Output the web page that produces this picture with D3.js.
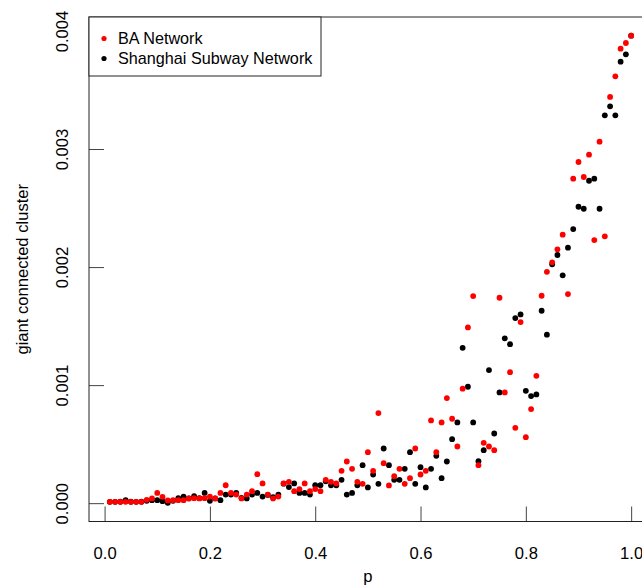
<!DOCTYPE html>
<html>
<head>
<meta charset="utf-8">
<script src="https://cdn.jsdelivr.net/npm/d3@7"></script>
<style>
  body { margin: 0; background: #fff; }
  svg { display: block; font-family: "Liberation Sans", Arial, sans-serif; }
</style>
</head>
<body>
<svg id="chart" width="642" height="588"></svg>
<script>
// p values 0.01 .. 1.00
var pValues = [
 0.01,0.02,0.03,0.04,0.05,0.06,0.07,0.08,0.09,0.10,
 0.11,0.12,0.13,0.14,0.15,0.16,0.17,0.18,0.19,0.20,
 0.21,0.22,0.23,0.24,0.25,0.26,0.27,0.28,0.29,0.30,
 0.31,0.32,0.33,0.34,0.35,0.36,0.37,0.38,0.39,0.40,
 0.41,0.42,0.43,0.44,0.45,0.46,0.47,0.48,0.49,0.50,
 0.51,0.52,0.53,0.54,0.55,0.56,0.57,0.58,0.59,0.60,
 0.61,0.62,0.63,0.64,0.65,0.66,0.67,0.68,0.69,0.70,
 0.71,0.72,0.73,0.74,0.75,0.76,0.77,0.78,0.79,0.80,
 0.81,0.82,0.83,0.84,0.85,0.86,0.87,0.88,0.89,0.90,
 0.91,0.92,0.93,0.94,0.95,0.96,0.97,0.98,0.99,1.00];

// giant connected cluster, in units of 0.001
var baValues = [
 0.011,0.011,0.011,0.011,0.011,0.011,0.011,0.028,0.040,0.087,
 0.054,0.023,0.025,0.025,0.025,0.040,0.042,0.040,0.042,0.056,
 0.040,0.087,0.152,0.087,0.073,0.040,0.073,0.102,0.246,0.167,
 0.073,0.040,0.056,0.167,0.181,0.102,0.119,0.167,0.102,0.119,
 0.102,0.198,0.181,0.167,0.274,0.353,0.291,0.181,0.164,0.432,
 0.274,0.763,0.339,0.150,0.229,0.291,0.164,0.212,0.463,0.243,
 0.274,0.701,0.432,0.684,0.890,0.715,0.480,0.970,1.489,1.754,
 0.322,0.511,0.480,0.449,1.740,0.938,1.110,0.638,1.534,0.559,
 0.797,1.079,1.757,1.960,2.040,2.150,2.274,1.771,2.749,2.890,
 2.763,2.952,2.229,3.062,2.260,3.441,3.616,3.850,3.898,3.960];

var subwayValues = [
 0.011,0.011,0.012,0.025,0.012,0.011,0.012,0.020,0.025,0.025,
 0.017,0.003,0.020,0.042,0.056,0.040,0.059,0.042,0.087,0.020,
 0.040,0.025,0.073,0.073,0.087,0.045,0.040,0.073,0.087,0.056,
 0.070,0.050,0.073,0.165,0.136,0.167,0.087,0.087,0.073,0.152,
 0.152,0.185,0.152,0.152,0.198,0.073,0.087,0.152,0.322,0.133,
 0.243,0.164,0.463,0.322,0.198,0.198,0.291,0.432,0.164,0.305,
 0.133,0.291,0.401,0.212,0.353,0.542,0.684,1.316,0.986,0.684,
 0.356,0.449,1.127,0.590,0.938,1.396,1.347,1.568,1.599,0.952,
 0.907,0.921,1.630,1.427,2.023,2.102,1.930,2.164,2.322,2.511,
 2.494,2.731,2.749,2.494,3.285,3.362,3.285,3.740,3.802,3.960];

var unit = 0.001;
var xTicks = [0, 0.2, 0.4, 0.6, 0.8, 1.0];
var yTicks = [0, 0.001, 0.002, 0.003, 0.004];
var seriesNames = ["BA Network", "Shanghai Subway Network"];
var seriesColors = ["#ff0000", "#000000"];

var svg = d3.select("#chart");
var plotL = 89, plotR = 652, plotT = 17, plotB = 521.5;
var tck = 15;
var fs = "16.6px";

// R-style 4% padding around the data range
function padded(ext) {
  var r = ext[1] - ext[0];
  return [ext[0] - 0.04 * r, ext[1] + 0.04 * r];
}
var allY = baValues.concat(subwayValues).map(function(v) { return v * unit; });
var x = d3.scaleLinear().domain(padded(d3.extent(pValues))).range([plotL, plotR]);
var y = d3.scaleLinear().domain(padded(d3.extent(allY))).range([plotB, plotT]);

// points: subway first, BA drawn on top
var sets = [
  { vals: subwayValues, color: seriesColors[1] },
  { vals: baValues, color: seriesColors[0] }
];
sets.forEach(function(s) {
  svg.append("g").selectAll("circle")
    .data(s.vals)
    .enter()
    .append("circle")
    .attr("cx", function(d, i) { return x(pValues[i]); })
    .attr("cy", function(d) { return y(d * unit); })
    .attr("r", 2.9)
    .attr("fill", s.color);
});

// axes with inward ticks
var xAxis = svg.append("g")
  .attr("transform", "translate(0," + plotB + ")")
  .call(d3.axisBottom(x).tickValues(xTicks).tickSize(-tck).tickPadding(0).tickFormat(d3.format(".1f")));
xAxis.select(".domain").remove();
xAxis.selectAll("line").attr("stroke", "#444");
xAxis.selectAll("text")
  .attr("y", 0).attr("dy", null)
  .attr("transform", "translate(0,37)")
  .attr("font-size", fs).attr("fill", "#000");

var yAxis = svg.append("g")
  .attr("transform", "translate(" + plotL + ",0)")
  .call(d3.axisLeft(y).tickValues(yTicks).tickSize(-tck).tickFormat(d3.format(".3f")));
yAxis.select(".domain").remove();
yAxis.selectAll("line").attr("stroke", "#444");
yAxis.selectAll("text")
  .attr("x", 0).attr("dy", null)
  .attr("text-anchor", "middle")
  .attr("transform", "translate(-21,0) rotate(-90)")
  .attr("font-size", fs).attr("fill", "#000");

// box
svg.append("rect")
  .attr("x", plotL).attr("y", plotT)
  .attr("width", plotR - plotL).attr("height", plotB - plotT)
  .attr("fill", "none").attr("stroke", "#222").attr("stroke-width", 1);

// titles
svg.append("text")
  .attr("x", (x(0) + x(1)) / 2).attr("y", 582)
  .attr("text-anchor", "middle").attr("font-size", fs)
  .text("p");
svg.append("text")
  .attr("transform", "translate(28," + ((plotT + plotB) / 2) + ") rotate(-90)")
  .attr("text-anchor", "middle").attr("font-size", fs)
  .text("giant connected cluster");

// legend
var legend = svg.append("g");
legend.append("rect")
  .attr("x", plotL).attr("y", plotT)
  .attr("width", 232).attr("height", 59)
  .attr("fill", "#fff").attr("stroke", "#222");
seriesNames.forEach(function(name, i) {
  legend.append("circle")
    .attr("cx", plotL + 15).attr("cy", 38.5 + i * 20)
    .attr("r", 2.6).attr("fill", seriesColors[i]);
  legend.append("text")
    .attr("x", plotL + 29).attr("y", 44 + i * 20)
    .attr("font-size", "16.2px")
    .text(name);
});
</script>
</body>
</html>
